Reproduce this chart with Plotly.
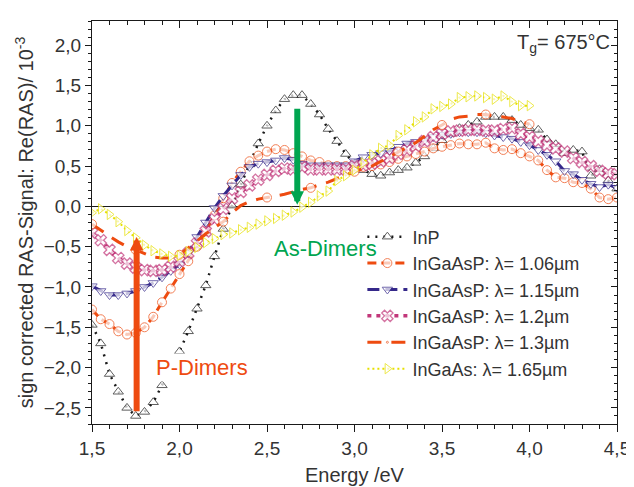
import plotly.graph_objects as go

# ---------------- data ----------------
energy_ev = [1.50, 1.55, 1.60, 1.65, 1.70, 1.75, 1.80, 1.85, 1.90, 1.95,
             2.00, 2.05, 2.10, 2.15, 2.20, 2.25, 2.30, 2.35, 2.40, 2.45,
             2.50, 2.55, 2.60, 2.65, 2.70, 2.75, 2.80, 2.85, 2.90, 2.95,
             3.00, 3.05, 3.10, 3.15, 3.20, 3.25, 3.30, 3.35, 3.40, 3.45,
             3.50, 3.55, 3.60, 3.65, 3.70, 3.75, 3.80, 3.85, 3.90, 3.95,
             4.00, 4.05, 4.10, 4.15, 4.20, 4.25, 4.30, 4.35, 4.40, 4.45,
             4.50]

inp = [-1.47, -1.70, -2.08, -2.30, -2.50, -2.60, -2.55, -2.43, -2.22, -1.98,
       -1.80, -1.55, -1.27, -0.98, -0.62, -0.28, 0.01, 0.27, 0.52, 0.78,
       1.00, 1.19, 1.33, 1.38, 1.38, 1.27, 1.14, 0.96, 0.81, 0.65,
       0.53, 0.45, 0.40, 0.38, 0.42, 0.45, 0.48, 0.54, 0.62, 0.72,
       0.82, 0.90, 0.97, 1.01, 1.05, 1.11, 1.11, 1.11, 1.07, 1.01,
       0.97, 0.95, 0.83, 0.77, 0.66, 0.70, 0.68, 0.38, 0.46, 0.32,
       0.22]

ingaasp_106 = [-1.28, -1.40, -1.46, -1.55, -1.59, -1.57, -1.50, -1.37, -1.19, -1.02,
               -0.84, -0.68, -0.50, -0.31, -0.11, 0.10, 0.29, 0.43, 0.56, 0.63,
               0.68, 0.71, 0.70, 0.66, 0.62, 0.57, 0.55, 0.51, 0.50, 0.50,
               0.49, 0.49, 0.50, 0.52, 0.55, 0.59, 0.62, 0.65, 0.68, 0.72,
               0.74, 0.76, 0.78, 0.77, 0.77, 0.79, 0.72, 0.70, 0.71, 0.66,
               0.62, 0.57, 0.45, 0.36, 0.35, 0.30, 0.29, 0.22, 0.11, 0.09,
               0.11]

ingaasp_115 = [-0.99, -1.05, -1.10, -1.10, -1.08, -1.05, -1.00, -0.95, -0.88, -0.80,
               -0.72, -0.58, -0.38, -0.20, -0.02, 0.13, 0.26, 0.39, 0.49, 0.53,
               0.55, 0.57, 0.60, 0.58, 0.53, 0.51, 0.51, 0.51, 0.51, 0.51,
               0.56, 0.61, 0.64, 0.66, 0.69, 0.74, 0.78, 0.80, 0.82, 0.86,
               0.89, 0.90, 0.92, 0.92, 0.92, 0.91, 0.88, 0.86, 0.84, 0.80,
               0.76, 0.70, 0.64, 0.56, 0.44, 0.40, 0.33, 0.28, 0.24, 0.27,
               0.23]

ingaasp_12 = [-0.33, -0.42, -0.54, -0.64, -0.71, -0.76, -0.79, -0.80, -0.79, -0.75,
              -0.68, -0.58, -0.46, -0.31, -0.16, -0.03, 0.10, 0.18, 0.26, 0.33,
              0.39, 0.44, 0.47, 0.46, 0.49, 0.46, 0.46, 0.46, 0.46, 0.46,
              0.50, 0.51, 0.53, 0.56, 0.60, 0.65, 0.70, 0.75, 0.81, 0.86,
              0.90, 0.93, 0.94, 0.95, 0.95, 0.94, 0.94, 0.96, 0.97, 0.90,
              0.86, 0.81, 0.76, 0.72, 0.68, 0.60, 0.55, 0.50, 0.44, 0.41,
              0.40]

ingaasp_13 = [-0.22, -0.30, -0.37, -0.44, -0.50, -0.54, -0.59, -0.63, -0.64, -0.64,
              -0.60, -0.52, -0.43, -0.34, -0.26, -0.19, -0.08, 0.01, 0.06, 0.09,
              0.11, 0.13, 0.15, 0.18, 0.21, 0.23, 0.27, 0.30, 0.35, 0.39,
              0.43, 0.47, 0.50, 0.56, 0.62, 0.68, 0.74, 0.79, 0.87, 0.95,
              1.01, 1.08, 1.11, 1.12, 1.14, 1.14, 1.12, 1.11, 1.09, 1.05,
              1.02]

ingaas_165 = [-0.08, -0.03, -0.10, -0.19, -0.30, -0.39, -0.48, -0.55, -0.59, -0.62,
              -0.61, -0.56, -0.51, -0.45, -0.40, -0.35, -0.33, -0.29, -0.26, -0.22,
              -0.18, -0.15, -0.11, -0.07, -0.01, 0.05, 0.13, 0.19, 0.32, 0.38,
              0.45, 0.54, 0.64, 0.72, 0.76, 0.88, 0.95, 1.05, 1.11, 1.21,
              1.24, 1.27, 1.35, 1.36, 1.37, 1.35, 1.33, 1.37, 1.30, 1.25,
              1.25]

series_names = ["InP",
                "InGaAsP: λ= 1.06µm",
                "InGaAsP: λ= 1.15µm",
                "InGaAsP: λ= 1.2µm",
                "InGaAsP: λ= 1.3µm",
                "InGaAs: λ= 1.65µm"]

x_ticks = [1.5, 2.0, 2.5, 3.0, 3.5, 4.0, 4.5]
y_ticks = [-2.5, -2.0, -1.5, -1.0, -0.5, 0.0, 0.5, 1.0, 1.5, 2.0]

# annotation anchor points (data units)
p_arrow = dict(x=1.755, y_from=-2.56, y_to=-0.38)
as_arrow = dict(x=2.673, y_from=1.23, y_to=0.02)

# ---------------- styles ----------------
FONT = "Liberation Sans, Arial, sans-serif"
C_BLACK = "#1a1a1a"
C_ORANGE = "#EE4B10"
C_NAVY = "#35288A"
C_MAGENTA = "#C2377A"
C_YELLOW = "#E6E000"
C_GREEN = "#00A550"

fig = go.Figure()

def add(yvals, name, color, dash, lw, symbol, msize, every=1, mlw=1.0):
    n = len(yvals)
    sizes = [msize if i % every == 0 else 0 for i in range(n)]
    fig.add_trace(go.Scatter(
        x=energy_ev[:n], y=yvals, name=name, mode="lines+markers",
        line=dict(color=color, width=lw, dash=dash),
        marker=dict(symbol=symbol, size=sizes, color="white",
                    line=dict(color=color, width=mlw)),
    ))

add(inp, series_names[0], C_BLACK, "2px,6px", 2.5, "triangle-up", 9)
add(ingaasp_106, series_names[1], C_ORANGE, "9px,5px", 3, "circle", 9)
add(ingaasp_115, series_names[2], C_NAVY, "12px,6px", 3, "triangle-down", 9)
add(ingaasp_12, series_names[3], C_MAGENTA, "4px,5px", 3.5, "x", 10, mlw=1.3)
add(ingaasp_13, series_names[4], C_ORANGE, "14px,10px", 3, "circle", 9, every=5)
add(ingaas_165, series_names[5], C_YELLOW, "2px,3px", 2, "triangle-right", 9)

# dummy trace for mirrored inside ticks (top / right)
fig.add_trace(go.Scatter(x=[None], y=[None], xaxis="x2", yaxis="y2",
                         showlegend=False, hoverinfo="skip"))

axis_common = dict(showgrid=False, linecolor=C_BLACK, linewidth=1,
                   tickcolor=C_BLACK, tickfont=dict(family=FONT, size=19, color="#333"))

fig.update_layout(
    width=634, height=487,
    margin=dict(l=84, r=18, t=12, b=63),
    paper_bgcolor="white", plot_bgcolor="white",
    separators=",.",
    font=dict(family=FONT, color="#333"),
    xaxis=dict(range=[1.5, 4.5], tickvals=x_ticks, tickformat=".1f",
               ticks="outside", ticklen=7, mirror=True, zeroline=False,
               minor=dict(dtick=0.1, ticks="outside", ticklen=4, tickcolor=C_BLACK),
               title=dict(text="Energy /eV", font=dict(family=FONT, size=20, color="#333"),
                          standoff=10),
               **axis_common),
    yaxis=dict(range=[-2.7, 2.3], tickvals=y_ticks, tickformat=".1f",
               ticks="outside", ticklen=6, mirror=True,
               zeroline=True, zerolinecolor=C_BLACK, zerolinewidth=1,
               minor=dict(dtick=0.1, ticks="outside", ticklen=3, tickcolor=C_BLACK),
               title=dict(text="sign corrected RAS-Signal: Re(RAS)/ 10<sup>-3</sup>",
                          font=dict(family=FONT, size=20, color="#333"), standoff=4),
               **axis_common),
    xaxis2=dict(range=[1.5, 4.5], overlaying="x", side="top", anchor="y2",
                tickvals=x_ticks, showticklabels=False, ticks="inside", ticklen=7,
                showgrid=False, zeroline=False, tickcolor=C_BLACK, showline=False,
                minor=dict(dtick=0.1, ticks="inside", ticklen=4, tickcolor=C_BLACK)),
    yaxis2=dict(range=[-2.7, 2.3], overlaying="y", side="right", anchor="x2",
                tickvals=y_ticks, showticklabels=False, ticks="inside", ticklen=6,
                showgrid=False, zeroline=False, tickcolor=C_BLACK, showline=False,
                minor=dict(dtick=0.1, ticks="inside", ticklen=3, tickcolor=C_BLACK)),
    legend=dict(x=0.515, y=0.51, xanchor="left", yanchor="top",
                bgcolor="rgba(0,0,0,0)", itemwidth=40,
                font=dict(family=FONT, size=18, color="#333"), tracegroupgap=0),
    showlegend=True,
)

fig.add_annotation(x=as_arrow["x"], y=as_arrow["y_to"], ax=as_arrow["x"], ay=as_arrow["y_from"],
                   xref="x", yref="y", axref="x", ayref="y", text="", showarrow=True,
                   arrowhead=2, arrowsize=0.45, arrowwidth=6, arrowcolor=C_GREEN)
fig.add_annotation(x=p_arrow["x"], y=p_arrow["y_to"], ax=p_arrow["x"], ay=p_arrow["y_from"],
                   xref="x", yref="y", axref="x", ayref="y", text="", showarrow=True,
                   arrowhead=2, arrowsize=0.45, arrowwidth=6, arrowcolor=C_ORANGE)
fig.add_annotation(x=2.837, y=-0.52, xref="x", yref="y", text="As-Dimers", showarrow=False,
                   font=dict(family=FONT, size=22, color=C_GREEN))
fig.add_annotation(x=2.126, y=-2.0, xref="x", yref="y", text="P-Dimers", showarrow=False,
                   bgcolor="white", font=dict(family=FONT, size=22, color=C_ORANGE))
fig.add_annotation(x=0.99, y=0.945, xref="paper", yref="paper", xanchor="right",
                   yanchor="middle", text="T<sub>g</sub>= 675°C", showarrow=False,
                   font=dict(family=FONT, size=20, color="#333"))

fig.write_html("out.html")
